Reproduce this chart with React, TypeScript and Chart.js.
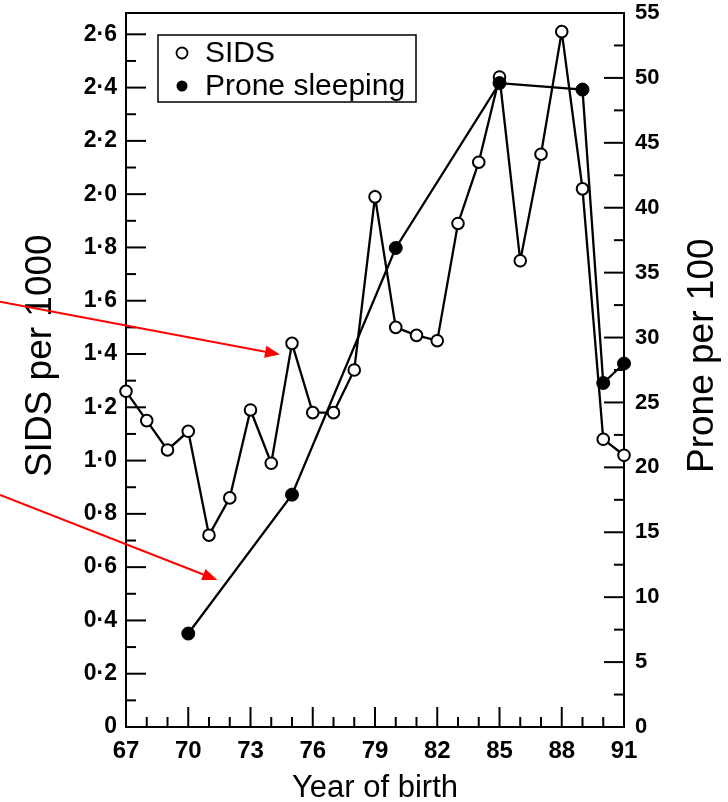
import React, { useEffect, useRef } from "react";
import { Chart, registerables } from "chart.js";

Chart.register(...registerables);

const FONT = "'Liberation Sans', Arial, Helvetica, sans-serif";

// SIDS per 1000, by year of birth
const sidsYears = [67, 68, 69, 70, 71, 72, 73, 74, 75, 76, 77, 78, 79, 80, 81, 82, 83, 84, 85, 86, 87, 88, 89, 90, 91];
const sidsRates = [1.26, 1.15, 1.04, 1.11, 0.72, 0.86, 1.19, 0.99, 1.44, 1.18, 1.18, 1.34, 1.99, 1.5, 1.47, 1.45, 1.89, 2.12, 2.44, 1.75, 2.15, 2.61, 2.02, 1.08, 1.02];

// Prone sleeping per 100
const proneYears = [70, 75, 80, 85, 89, 90, 91];
const proneRates = [7.2, 17.9, 36.9, 49.6, 49.1, 26.5, 28.0];

// Red annotation arrows (year, SIDS-axis units)
const arrowFromYear = [60.93, 60.93];
const arrowFromValue = [1.596, 0.871];
const arrowToYear = [74.42, 71.4];
const arrowToValue = [1.398, 0.552];

const legendLabels = ["SIDS", "Prone sleeping"];
const xTitle = "Year of birth";
const yTitle = "SIDS per 1000";
const y2Title = "Prone per 100";

const fmtSids = (v: number) => {
  const n = Math.round(v * 10);
  if (n % 2 !== 0) return "";
  if (n === 0) return "0";
  return (n / 10).toFixed(1).replace(".", "\u00b7");
};

const noPad = (s: any) => {
  s.paddingTop = 0;
  s.paddingBottom = 0;
  s.paddingLeft = 0;
  s.paddingRight = 0;
};

const decorPlugin = {
  id: "decor",
  beforeDatasetsDraw(chart: any) {
    const { ctx, chartArea: a, scales } = chart;
    const line = (x1: number, y1: number, x2: number, y2: number) => {
      ctx.beginPath();
      ctx.moveTo(x1, y1);
      ctx.lineTo(x2, y2);
      ctx.stroke();
    };
    ctx.save();
    ctx.strokeStyle = "#000";
    ctx.lineWidth = 2;
    ctx.lineCap = "butt";
    // top border
    line(a.left - 1, a.top, a.right + 1, a.top);
    // inward ticks
    scales.x.ticks.forEach((t: any) => {
      const px = scales.x.getPixelForValue(t.value);
      const major = (Math.round(t.value) - 67) % 3 === 0;
      line(px, a.bottom, px, a.bottom - (major ? 20 : 10));
    });
    scales.y.ticks.forEach((t: any) => {
      const py = scales.y.getPixelForValue(t.value);
      const major = Math.round(t.value * 10) % 2 === 0;
      line(a.left, py, a.left + (major ? 20 : 10), py);
    });
    scales.y2.ticks.forEach((t: any) => {
      const py = scales.y2.getPixelForValue(t.value);
      const major = Math.round(t.value * 10) % 50 === 0;
      line(a.right, py, a.right - (major ? 20 : 10), py);
    });
    ctx.restore();
  },
  afterDraw(chart: any) {
    const { ctx, chartArea: a, scales } = chart;
    ctx.save();
    // Legend
    const lx = a.left + 32;
    const ly = a.top + 22;
    ctx.strokeStyle = "#000";
    ctx.lineWidth = 1.5;
    ctx.strokeRect(lx, ly, 258, 67);
    ctx.fillStyle = "#000";
    ctx.font = `30px ${FONT}`;
    ctx.textAlign = "left";
    ctx.textBaseline = "alphabetic";
    legendLabels.forEach((lab, i) => {
      const cy = ly + 18 + i * 33;
      ctx.beginPath();
      ctx.arc(lx + 24, cy, 5.5, 0, Math.PI * 2);
      if (i === 0) {
        ctx.fillStyle = "#fff";
        ctx.fill();
        ctx.lineWidth = 1.8;
        ctx.stroke();
      } else {
        ctx.fillStyle = "#000";
        ctx.fill();
      }
      ctx.fillStyle = "#000";
      ctx.fillText(lab, lx + 47, ly + 27 + i * 33);
    });

    // Axis titles
    ctx.font = `31px ${FONT}`;
    ctx.textAlign = "center";
    ctx.fillText(xTitle, (a.left + a.right) / 2, 797);
    ctx.font = `37px ${FONT}`;
    const cy = a.bottom - 0.52 * (a.bottom - a.top);
    ctx.save();
    ctx.translate(51, cy);
    ctx.rotate(-Math.PI / 2);
    ctx.fillText(yTitle, 0, 0);
    ctx.restore();
    ctx.save();
    ctx.translate(713, cy);
    ctx.rotate(-Math.PI / 2);
    ctx.fillText(y2Title, 0, 0);
    ctx.restore();

    // Red arrows
    ctx.strokeStyle = "#ff0000";
    ctx.fillStyle = "#ff0000";
    ctx.lineWidth = 2;
    for (let i = 0; i < arrowFromYear.length; i++) {
      const x1 = scales.x.getPixelForValue(arrowFromYear[i]);
      const y1 = scales.y.getPixelForValue(arrowFromValue[i]);
      const x2 = scales.x.getPixelForValue(arrowToYear[i]);
      const y2 = scales.y.getPixelForValue(arrowToValue[i]);
      const ang = Math.atan2(y2 - y1, x2 - x1);
      const hl = 15;
      const hw = 6;
      const bx = x2 - hl * Math.cos(ang);
      const by = y2 - hl * Math.sin(ang);
      ctx.beginPath();
      ctx.moveTo(x1, y1);
      ctx.lineTo(bx, by);
      ctx.stroke();
      ctx.beginPath();
      ctx.moveTo(x2, y2);
      ctx.lineTo(bx + hw * Math.sin(ang), by - hw * Math.cos(ang));
      ctx.lineTo(bx - hw * Math.sin(ang), by + hw * Math.cos(ang));
      ctx.closePath();
      ctx.fill();
    }
    ctx.restore();
  },
};

export default function App() {
  const ref = useRef<HTMLCanvasElement>(null);
  useEffect(() => {
    if (!ref.current) return;
    const chart = new Chart(ref.current, {
      type: "line",
      data: {
        datasets: [
          {
            label: legendLabels[1],
            data: proneYears.map((x, i) => ({ x, y: proneRates[i] })),
            yAxisID: "y2",
            borderColor: "#000",
            borderWidth: 2.3,
            pointRadius: 6.5,
            pointBackgroundColor: "#000",
            pointBorderColor: "#000",
            pointBorderWidth: 1,
            tension: 0,
            clip: false as any,
            order: 0,
          },
          {
            label: legendLabels[0],
            data: sidsYears.map((x, i) => ({ x, y: sidsRates[i] })),
            yAxisID: "y",
            borderColor: "#000",
            borderWidth: 2.3,
            pointRadius: 5.8,
            pointBackgroundColor: "#fff",
            pointBorderColor: "#000",
            pointBorderWidth: 2,
            tension: 0,
            clip: false as any,
            order: 1,
          },
        ],
      },
      options: {
        responsive: false,
        devicePixelRatio: 1,
        animation: false,
        layout: { padding: { top: 13, left: 0, right: 0, bottom: 0 } },
        plugins: { legend: { display: false }, tooltip: { enabled: false } },
        scales: {
          x: {
            type: "linear",
            min: 67,
            max: 91,
            afterFit: (s: any) => {
              s.height = 75;
              noPad(s);
            },
            ticks: {
              stepSize: 1,
              autoSkip: false,
              maxRotation: 0,
              padding: 10,
              color: "#000",
              font: { family: FONT, size: 24, weight: "bold" },
              callback: (v: any) => ((Math.round(v) - 67) % 3 === 0 ? String(v) : ""),
            },
            grid: { drawOnChartArea: false, drawTicks: false },
            border: { color: "#000", width: 2 },
          },
          y: {
            type: "linear",
            position: "left",
            min: 0,
            max: 2.68,
            afterFit: (s: any) => {
              s.width = 126;
              noPad(s);
            },
            ticks: {
              stepSize: 0.1,
              includeBounds: false,
              autoSkip: false,
              padding: 9,
              color: "#000",
              font: { family: FONT, size: 23, weight: "bold" },
              callback: (v: any) => fmtSids(Number(v)),
            },
            grid: { drawOnChartArea: false, drawTicks: false },
            border: { color: "#000", width: 2 },
          },
          y2: {
            type: "linear",
            position: "right",
            min: 0,
            max: 55,
            afterFit: (s: any) => {
              s.width = 104;
              noPad(s);
            },
            ticks: {
              stepSize: 2.5,
              autoSkip: false,
              padding: 11,
              color: "#000",
              font: { family: FONT, size: 22, weight: "bold" },
              callback: (v: any) => (Math.round(Number(v) * 10) % 50 === 0 ? String(v) : ""),
            },
            grid: { drawOnChartArea: false, drawTicks: false },
            border: { color: "#000", width: 2 },
          },
        },
      } as any,
      plugins: [decorPlugin],
    });
    return () => chart.destroy();
  }, []);
  return (
    <div style={{ position: "absolute", left: 0, top: 0, width: 728, height: 802 }}>
      <canvas ref={ref} width={728} height={802} style={{ display: "block" }} />
    </div>
  );
}
